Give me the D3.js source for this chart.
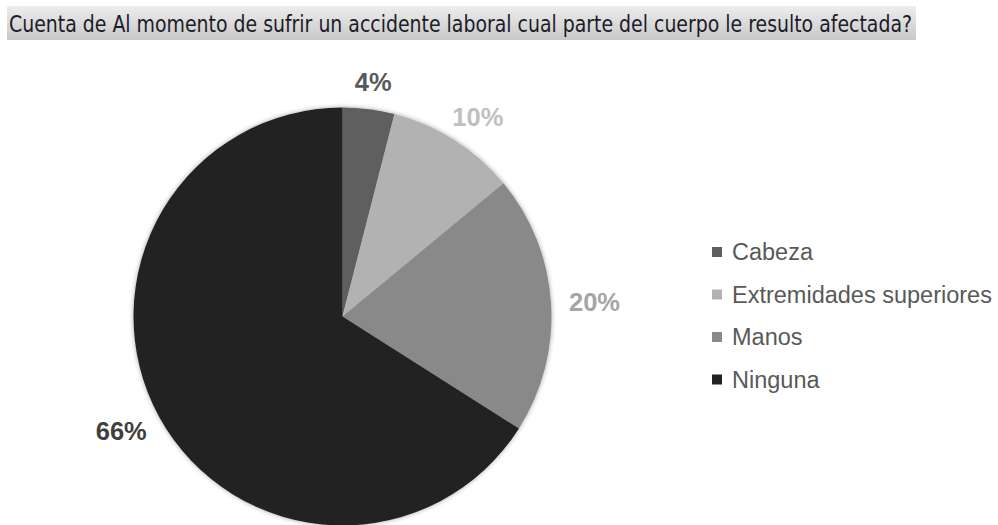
<!DOCTYPE html>
<html>
<head>
<meta charset="utf-8">
<script src="https://cdn.jsdelivr.net/npm/d3@7"></script>
<style>
  body { margin: 0; background: #fff; }
  svg { display: block; }
</style>
</head>
<body>
<svg id="chart" width="998" height="525"></svg>
<script>
// Chart data
const titleText = "Cuenta de Al momento  de sufrir un accidente laboral cual parte del cuerpo le resulto afectada?";
const categories = ["Cabeza", "Extremidades superiores", "Manos", "Ninguna"];
const values = [4, 10, 20, 66];
const sliceColors = ["#5f5f5f", "#b2b2b2", "#898989", "#222222"];
const labelColors = ["#595959", "#bfbfbf", "#a5a5a5", "#3f3f3f"];

const conf = {
  cx: 342.5,
  cy: 316.5,
  r: 209,
  labelGap: 18,   // gap between rim and label box
  labelSize: 25.5,
  legendX: 712,
  legendY: 252,
  legendStep: 42.5
};

const svg = d3.select("#chart");
const defs = svg.append("defs");

// Title box gradient
const grad = defs.append("linearGradient")
  .attr("id", "titleGrad")
  .attr("x1", 0).attr("y1", 0).attr("x2", 0).attr("y2", 1);
grad.append("stop").attr("offset", "0%").attr("stop-color", "#ededed");
grad.append("stop").attr("offset", "100%").attr("stop-color", "#c8c8c8");

// Soft shadow round the pie
const shadow = defs.append("filter")
  .attr("id", "pieShadow")
  .attr("x", "-10%").attr("y", "-10%").attr("width", "120%").attr("height", "120%");
shadow.append("feGaussianBlur").attr("in", "SourceAlpha").attr("stdDeviation", 2.5).attr("result", "blur");
shadow.append("feComponentTransfer").attr("in", "blur").attr("result", "soft")
  .append("feFuncA").attr("type", "linear").attr("slope", 0.35);
const merge = shadow.append("feMerge");
merge.append("feMergeNode").attr("in", "soft");
merge.append("feMergeNode").attr("in", "SourceGraphic");

// Title
svg.append("rect")
  .attr("x", 7).attr("y", 6)
  .attr("width", 909).attr("height", 34)
  .attr("fill", "url(#titleGrad)");

svg.append("text")
  .attr("x", 9)
  .attr("y", 32)
  .attr("font-family", "'Liberation Sans Narrow', 'DejaVu Sans Condensed', sans-serif")
  .attr("font-size", 23)
  .attr("fill", "#1c1c2a")
  .attr("textLength", 903)
  .attr("lengthAdjust", "spacingAndGlyphs")
  .text(titleText);

// Pie
const pie = d3.pie().sort(null).value(d => d);
const arcs = pie(values);
const arc = d3.arc().innerRadius(0).outerRadius(conf.r);

const pieGroup = svg.append("g")
  .attr("transform", `translate(${conf.cx},${conf.cy})`);

pieGroup.append("g")
  .attr("filter", "url(#pieShadow)")
  .selectAll("path")
  .data(arcs)
  .enter().append("path")
  .attr("d", arc)
  .attr("fill", (d, i) => sliceColors[i]);

// Percent labels: box sits just outside the rim, like Excel's outside-end
const total = d3.sum(values);
const fmt = d3.format(".0%");

const labels = pieGroup.selectAll(".pct")
  .data(arcs)
  .enter().append("text")
  .attr("class", "pct")
  .attr("text-anchor", "middle")
  .attr("dominant-baseline", "central")
  .attr("font-family", "'Liberation Sans', Arial, sans-serif")
  .attr("font-weight", "bold")
  .attr("font-size", conf.labelSize)
  .attr("fill", (d, i) => labelColors[i])
  .text(d => fmt(d.value / total));

labels.attr("transform", function(d) {
  const box = this.getBBox();
  const a = (d.startAngle + d.endAngle) / 2;
  const s = Math.sin(a), c = Math.cos(a);
  const rr = conf.r + conf.labelGap;
  const x = s * rr + s * box.width / 2;
  const y = -c * rr - c * (box.height * 0.7) / 2;
  return `translate(${x},${y})`;
});

// Legend
const legend = svg.append("g")
  .attr("transform", `translate(${conf.legendX},${conf.legendY})`);

const items = legend.selectAll("g")
  .data(categories)
  .enter().append("g")
  .attr("transform", (d, i) => `translate(0,${i * conf.legendStep})`);

items.append("rect")
  .attr("x", 0).attr("y", -5)
  .attr("width", 10).attr("height", 10)
  .attr("fill", (d, i) => sliceColors[i]);

items.append("text")
  .attr("x", 20)
  .attr("y", 8)
  .attr("font-family", "'Liberation Sans', Arial, sans-serif")
  .attr("font-size", 23.5)
  .attr("fill", "#595959")
  .text(d => d);
</script>
</body>
</html>
